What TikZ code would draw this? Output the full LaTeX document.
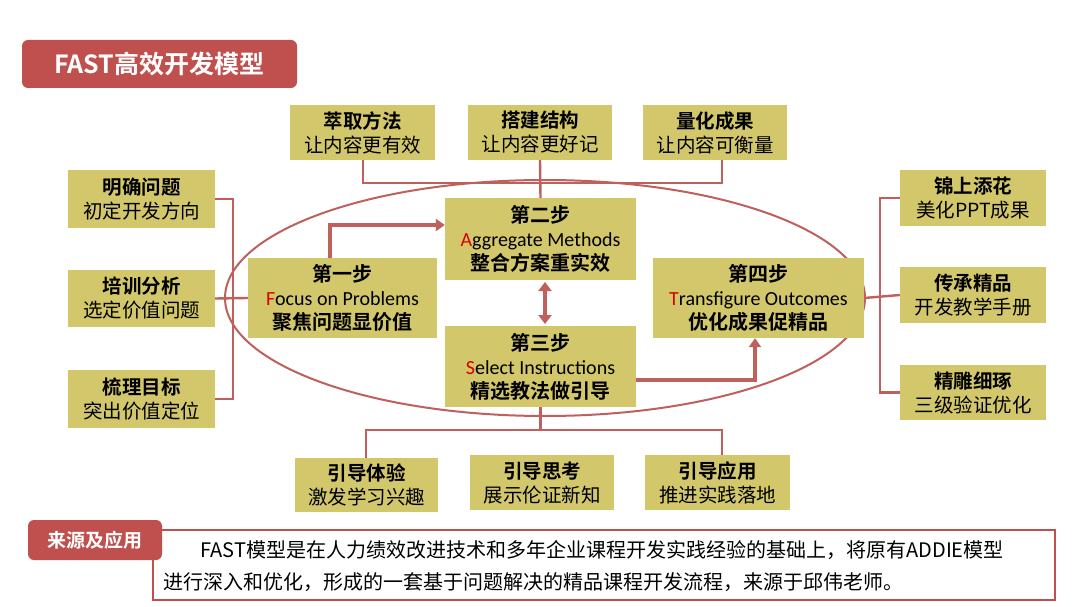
\documentclass[tikz,border=0pt]{standalone}
\usepackage{fontspec}
\setmainfont{Carlito}
\newfontfamily\cjk{Noto Sans CJK SC}
\newfontfamily\cjkb{Noto Sans CJK SC Bold}
\usetikzlibrary{arrows.meta}
\definecolor{rd}{HTML}{C0504D}
\definecolor{gd}{HTML}{D3C76B}
\definecolor{ln}{HTML}{C0605C}
\tikzset{
 x=1pt,y=-1pt,
 gbox/.style={fill=gd,inner sep=0,align=center,font=\cjk\fontsize{19.5}{24}\selectfont},
 conn/.style={draw=ln,line width=2.4pt},
 thick/.style={draw=ln,line width=4pt},
}
\newcommand{\Rl}[1]{{\color{red!85!black}#1}}
\begin{document}
\begin{tikzpicture}
\useasboundingbox[fill=white] (0,0) rectangle (1080,607);
% title
\node[fill=rd,rounded corners=6pt,minimum width=275,minimum height=48,text=white,font=\cjkb\fontsize{25}{28}\selectfont] (title) at (159.5,64) {FAST高效开发模型};
% ellipse
\draw[ln,line width=2pt] (545,298) ellipse [x radius=320,y radius=118];
% top boxes
\node[gbox,minimum width=145,minimum height=55] (t1) at (362.5,132.5) {{\cjkb 萃取方法}\\让内容更有效};
\node[gbox,minimum width=144,minimum height=55] (t2) at (540,132.5) {{\cjkb 搭建结构}\\让内容更好记};
\node[gbox,minimum width=144,minimum height=55] (t3) at (715,132.5) {{\cjkb 量化成果}\\让内容可衡量};
% left boxes
\node[gbox,minimum width=147,minimum height=58] (l1) at (141.5,199) {{\cjkb 明确问题}\\初定开发方向};
\node[gbox,minimum width=147,minimum height=57] (l2) at (141.5,298.5) {{\cjkb 培训分析}\\选定价值问题};
\node[gbox,minimum width=147,minimum height=58] (l3) at (141.5,399) {{\cjkb 梳理目标}\\突出价值定位};
% right boxes
\node[gbox,minimum width=146,minimum height=56] (r1) at (973,198) {{\cjkb 锦上添花}\\美化PPT成果};
\node[gbox,minimum width=146,minimum height=56] (r2) at (973,295) {{\cjkb 传承精品}\\开发教学手册};
\node[gbox,minimum width=146,minimum height=55] (r3) at (973,392.5) {{\cjkb 精雕细琢}\\三级验证优化};
% bottom boxes
\node[gbox,minimum width=143,minimum height=54] (b1) at (366.5,485) {{\cjkb 引导体验}\\激发学习兴趣};
\node[gbox,minimum width=144,minimum height=55] (b2) at (542,482.5) {{\cjkb 引导思考}\\展示伦证新知};
\node[gbox,minimum width=145,minimum height=55] (b3) at (717.5,482.5) {{\cjkb 引导应用}\\推进实践落地};
% steps
\tikzset{stp/.style={gbox,font=\fontsize{20}{24}\selectfont}}
\node[stp,minimum width=189,minimum height=80] (s1) at (342.5,298) {{\cjkb 第一步}\\\Rl{F}ocus on Problems\\{\cjkb 聚焦问题显价值}};
\node[stp,minimum width=191,minimum height=82] (s2) at (540.5,239) {{\cjkb 第二步}\\\Rl{A}ggregate Methods\\{\cjkb 整合方案重实效}};
\node[stp,minimum width=191,minimum height=81] (s3) at (540.5,366.5) {{\cjkb 第三步}\\\Rl{S}elect Instructions\\{\cjkb 精选教法做引导}};
\node[stp,minimum width=211,minimum height=80] (s4) at (758.5,298) {{\cjkb 第四步}\\\Rl{T}ransfigure Outcomes\\{\cjkb 优化成果促精品}};
% top bracket
\coordinate (tl) at (363,183); \coordinate (tr) at (722,183);
\draw[conn] (t1.south -| tl) -- (tl) -- (tr) -- (t3.south -| tr);
\draw[conn] (t2.south) -- (s2.north);
% left bracket
\coordinate (lx) at (233,298);
\draw[conn] (l1.east) -- (l1.east -| lx) -- (l3.east -| lx) -- (l3.east);
\draw[conn] (l2.east) -- (s1.west);
% right bracket
\coordinate (rx) at (880,298);
\draw[conn] (r1.west) -- (r1.west -| rx) -- (r3.west -| rx) -- (r3.west);
\draw[conn] (s4.east) -- (r2.west);
% bottom bracket
\coordinate (bl) at (366,430); \coordinate (br) at (722,430);
\draw[conn] (b1.north -| bl) -- (bl) -- (br) -- (b3.north -| br);
\draw[conn] (s3.south) -- (s3.south |- bl);
% step arrows
\coordinate (a1) at (330,225);
\draw[thick,-{Triangle[length=9pt,width=12pt]}] (s1.north -| a1) -- (a1) -- (a1 -| s2.west);
\draw[thick,{Triangle[length=9pt,width=13pt]}-{Triangle[length=9pt,width=13pt]}] (545,282) -- (545,324);
\coordinate (a3) at (755,380);
\draw[thick,-{Triangle[length=9pt,width=12pt]}] (s3.east |- a3) -- (a3) -- (a3 |- s4.south);
% source
\node[draw=rd,line width=1.5pt,fill=white,minimum width=902,minimum height=70,inner sep=0] (src) at (604,565) {};
\node[fill=rd,rounded corners=6pt,minimum width=134,minimum height=40,text=white,font=\cjkb\fontsize{19}{22}\selectfont] (lab) at (95,540) {来源及应用};
\node[anchor=west,font=\cjk\fontsize{20}{22}\selectfont] (tx1) at (197,550) {FAST模型是在人力绩效改进技术和多年企业课程开发实践经验的基础上，将原有ADDIE模型};
\node[anchor=west,font=\cjk\fontsize{20}{22}\selectfont] (tx2) at (160,582) {进行深入和优化，形成的一套基于问题解决的精品课程开发流程，来源于邱伟老师。};
\end{tikzpicture}
\end{document}
